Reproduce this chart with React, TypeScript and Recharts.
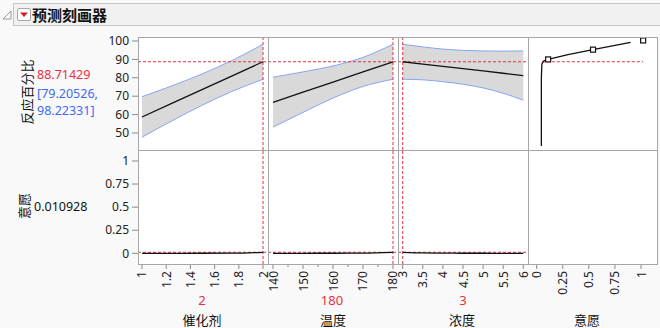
import React from "react";
import { ComposedChart, Line, Area, XAxis, YAxis, ReferenceLine, Scatter } from "recharts";

// current factor settings and predicted response
const currentCatalyst = 2;
const currentTemp = 180;
const currentConc = 3;
const predicted = 88.71429;
const predLo = 79.20526;
const predHi = 98.22331;
const currentDesire = 0.010928;

// 催化剂 profile
const catalystX = [1, 1.25, 1.5, 1.75, 2];
const catalystPred = [58.7, 66.2, 73.7, 81.2, 88.71];
const catalystLo = [47.7, 56.7, 65.2, 72.8, 79.21];
const catalystHi = [69.7, 75.7, 82.2, 89.6, 98.22];
const catalystDes = [0, 0.0001, 0.0005, 0.002, 0.0109];

// 温度 profile
const tempX = [140, 150, 160, 170, 180];
const tempPred = [66.7, 72.2, 77.7, 83.2, 88.71];
const tempLo = [53.2, 61.2, 69.0, 75.3, 79.21];
const tempHi = [80.3, 83.2, 86.4, 91.1, 98.22];
const tempDes = [0, 0.0001, 0.0005, 0.002, 0.0109];

// 浓度 profile
const concX = [3, 3.5, 4, 4.5, 5, 5.5, 6];
const concPred = [88.71, 87.46, 86.21, 84.96, 83.71, 82.46, 81.21];
const concLo = [79.21, 78.9, 77.9, 76.5, 74.5, 71.6, 67.8];
const concHi = [98.22, 96.8, 95.6, 94.9, 94.6, 94.5, 94.6];
const concDes = [0.0109, 0.004, 0.0015, 0.0007, 0.0003, 0.0001, 0];

// desirability function (意愿 vs 反应百分比)
const desireD = [0.045, 0.045, 0.05, 0.07, 0.11, 0.3, 0.54, 0.75, 0.9];
const desireY = [43, 80, 87.5, 89.3, 90, 92.6, 95.3, 97.6, 99.2];
const handleD = [0.11, 0.54, 1.02];
const handleY = [90, 95.3, 100.3];

// ticks
const responseTicks = [50, 60, 70, 80, 90, 100];
const desireTicks = [0, 0.25, 0.5, 0.75, 1];
const catalystTicks = [1, 1.2, 1.4, 1.6, 1.8, 2];
const tempTicks = [140, 145, 150, 155, 160, 165, 170, 175, 180];
const concTicks = [3, 3.5, 4, 4.5, 5, 5.5, 6];

const RED = "#e8303f";
const BLUE = "#3d6cf0";
const BAND_EDGE = "#86a6f2";
const GRID = "#a6a6a6";
const FONT = '"Segoe UI", "Noto Sans", "Noto Sans CJK SC", sans-serif';

const TOP_DOMAIN: [number, number] = [40.76, 102.17];
const BOT_DOMAIN: [number, number] = [-0.116, 1.119];

const ROW1 = 37;
const ROW2 = 150;
const ROW_END = 264;
const COLS = [138, 268, 398, 528, 657];

const makeXTick = (isMajor: (v: number) => boolean) => (props: any) => {
  const { x, y, payload } = props;
  const v = payload.value;
  const major = isMajor(v);
  return (
    <g>
      <line x1={x} x2={x} y1={y} y2={y + (major ? 5 : 3)} stroke="#8a8a8a" />
      {major && (
        <text
          x={x}
          y={y + 7}
          transform={`rotate(-90 ${x} ${y + 7})`}
          textAnchor="end"
          dominantBaseline="central"
          fontSize={12}
          fill="#222"
        >
          {String(v)}
        </text>
      )}
    </g>
  );
};

const zip = (xs: number[], pred: number[], lo: number[], hi: number[]) =>
  xs.map((x, i) => ({ x, pred: pred[i], lo: lo[i], hi: hi[i], band: [lo[i], hi[i]] }));

const zipDes = (xs: number[], d: number[]) => xs.map((x, i) => ({ x, d: d[i] }));

const dash = { stroke: RED, strokeDasharray: "3 2", strokeWidth: 1 } as any;

function TopPanel({ rows, xDomain, cur, left, showY }: any) {
  const w = 130 + (showY ? 40 : 0);
  return (
    <div style={{ position: "absolute", left: showY ? left - 40 : left, top: ROW1 }}>
      <ComposedChart width={w} height={113} data={rows} margin={{ top: 0, right: 0, bottom: 0, left: 0 }}>
        <XAxis type="number" dataKey="x" domain={xDomain} hide />
        <YAxis
          type="number"
          domain={TOP_DOMAIN}
          ticks={responseTicks}
          interval={0}
          hide={!showY}
          width={40}
          axisLine={false}
          tickLine={{ stroke: "#8a8a8a" }}
          tickSize={6}
          tickMargin={3}
          tick={{ fontSize: 12, fill: "#222" }}
        />
        <Area type="monotone" dataKey="band" fill="#d9d9d9" fillOpacity={1} stroke="none" isAnimationActive={false} />
        <Line type="monotone" dataKey="hi" stroke={BAND_EDGE} strokeWidth={1} dot={false} isAnimationActive={false} />
        <Line type="monotone" dataKey="lo" stroke={BAND_EDGE} strokeWidth={1} dot={false} isAnimationActive={false} />
        <ReferenceLine y={predicted} {...dash} />
        <ReferenceLine x={cur} {...dash} />
        <Line type="linear" dataKey="pred" stroke="#111" strokeWidth={1.3} dot={false} isAnimationActive={false} />
      </ComposedChart>
    </div>
  );
}

function BottomPanel({ rows, xDomain, xTicks, isMajor, cur, left, showY }: any) {
  const w = 130 + (showY ? 40 : 0);
  return (
    <div style={{ position: "absolute", left: showY ? left - 40 : left, top: ROW2 }}>
      <ComposedChart width={w} height={114 + 40} data={rows} margin={{ top: 0, right: 0, bottom: 0, left: 0 }}>
        <XAxis
          type="number"
          dataKey="x"
          domain={xDomain}
          ticks={xTicks}
          height={40}
          axisLine={false}
          tickLine={false}
          tickSize={0}
          tickMargin={0}
          interval={0}
          tick={makeXTick(isMajor)}
        />
        <YAxis
          type="number"
          domain={BOT_DOMAIN}
          ticks={desireTicks}
          interval={0}
          hide={!showY}
          width={40}
          axisLine={false}
          tickLine={{ stroke: "#8a8a8a" }}
          tickSize={6}
          tickMargin={3}
          tick={{ fontSize: 12, fill: "#222" }}
        />
        <ReferenceLine y={currentDesire} {...dash} />
        <ReferenceLine x={cur} {...dash} />
        <Line type="monotone" dataKey="d" stroke="#111" strokeWidth={1.3} dot={false} isAnimationActive={false} />
      </ComposedChart>
    </div>
  );
}

const Square = (props: any) => {
  const { cx, cy } = props;
  return <rect x={cx - 2.5} y={cy - 2.5} width={5} height={5} fill="#fff" stroke="#111" strokeWidth={1.2} />;
};

function DesirePanel() {
  const rows = desireD.map((d, i) => ({ x: d, y: desireY[i] }));
  const handles = handleD.map((d, i) => ({ x: d, y: handleY[i] }));
  // spans both rows: extend the response domain downwards over the empty lower cell
  const lo = TOP_DOMAIN[0] - (ROW_END - ROW2) / ((ROW2 - ROW1) / (TOP_DOMAIN[1] - TOP_DOMAIN[0]));
  return (
    <div style={{ position: "absolute", left: COLS[3], top: ROW1 }}>
      <ComposedChart width={129} height={ROW_END - ROW1 + 40} margin={{ top: 0, right: 0, bottom: 0, left: 0 }}>
        <XAxis
          type="number"
          dataKey="x"
          domain={[-0.083, 1.153]}
          ticks={desireTicks}
          height={40}
          axisLine={false}
          tickLine={false}
          tickSize={0}
          tickMargin={0}
          interval={0}
          tick={makeXTick(() => true)}
        />
        <YAxis type="number" dataKey="y" domain={[lo, TOP_DOMAIN[1]]} hide />
        <ReferenceLine
          segment={[
            { x: 0.05, y: predicted },
            { x: 1.02, y: predicted },
          ]}
          {...dash}
        />
        <Line data={rows} type="linear" dataKey="y" stroke="#111" strokeWidth={1.3} dot={false} isAnimationActive={false} />
        <Scatter data={handles} dataKey="y" shape={Square} isAnimationActive={false} />
      </ComposedChart>
    </div>
  );
}

const abs = (x: number, y: number, extra: any = {}): React.CSSProperties => ({
  position: "absolute",
  left: x,
  top: y,
  whiteSpace: "nowrap",
  ...extra,
});

export default function App() {
  const hLines = [ROW1, ROW2, ROW_END];
  return (
    <div
      style={{
        position: "absolute",
        left: 0,
        top: 0,
        width: 660,
        height: 328,
        background: "#f9f9f9",
        fontFamily: FONT,
        color: "#111",
        overflow: "hidden",
      }}
    >
      <style>{".recharts-surface{overflow:visible}"}</style>
      {/* header */}
      <svg style={abs(0, 0)} width={14} height={28}>
        <polygon points="3,19 11,19 11,11" fill="none" stroke="#9a9a9a" />
      </svg>
      <div style={abs(13, 3, { width: 660, height: 21, border: "1px solid #c6c6c6", background: "#f1f1f1" })} />
      <div style={abs(17, 8, { width: 12, height: 11, border: "1px solid #a8a8a8", background: "#fff", borderRadius: 2 })}>
        <svg width={12} height={11} style={{ display: "block" }}>
          <polygon points="2,3.5 10,3.5 6,8" fill="#d81e1e" />
        </svg>
      </div>
      <div style={abs(32, 14, { transform: "translateY(-50%)", fontSize: 15, fontWeight: 700 })}>预测刻画器</div>

      {/* panel backgrounds */}
      {COLS.slice(0, 4).map((c, i) => (
        <React.Fragment key={i}>
          <div style={abs(c, ROW1, { width: COLS[i + 1] - c, height: ROW2 - ROW1, background: "#fff" })} />
          <div style={abs(c, ROW2, { width: COLS[i + 1] - c, height: ROW_END - ROW2, background: "#fff" })} />
        </React.Fragment>
      ))}

      <TopPanel rows={zip(catalystX, catalystPred, catalystLo, catalystHi)} xDomain={[0.967, 2.041]} cur={currentCatalyst} left={COLS[0]} showY />
      <TopPanel rows={zip(tempX, tempPred, tempLo, tempHi)} xDomain={[138.33, 181.67]} cur={currentTemp} left={COLS[1]} />
      <TopPanel rows={zip(concX, concPred, concLo, concHi)} xDomain={[2.883, 6.117]} cur={currentConc} left={COLS[2]} />

      <BottomPanel rows={zipDes(catalystX, catalystDes)} xDomain={[0.967, 2.041]} xTicks={catalystTicks} isMajor={() => true} cur={currentCatalyst} left={COLS[0]} showY />
      <BottomPanel rows={zipDes(tempX, tempDes)} xDomain={[138.33, 181.67]} xTicks={tempTicks} isMajor={(v: number) => v % 10 === 0} cur={currentTemp} left={COLS[1]} />
      <BottomPanel rows={zipDes(concX, concDes)} xDomain={[2.883, 6.117]} xTicks={concTicks} isMajor={() => true} cur={currentConc} left={COLS[2]} />

      <DesirePanel />

      {/* panel grid lines */}
      {hLines.map((y) => (
        <div key={"h" + y} style={abs(COLS[0], y, { width: COLS[4] - COLS[0] + 1, height: 1, background: GRID })} />
      ))}
      {COLS.map((x) => (
        <div key={"v" + x} style={abs(x, ROW1, { width: 1, height: ROW_END - ROW1 + 1, background: GRID })} />
      ))}

      {/* left readouts */}
      <div style={abs(26, 92, { transform: "translate(-50%,-50%) rotate(-90deg)", fontSize: 13 })}>反应百分比</div>
      <div style={abs(37, 74, { transform: "translateY(-50%)", fontSize: 12.5, color: RED })}>{predicted.toFixed(5)}</div>
      <div style={abs(37, 93, { transform: "translateY(-50%)", fontSize: 12.5, color: BLUE })}>[{predLo.toFixed(5)},</div>
      <div style={abs(37, 110, { transform: "translateY(-50%)", fontSize: 12.5, color: BLUE })}>{predHi.toFixed(5)}]</div>
      <div style={abs(23, 206, { transform: "translate(-50%,-50%) rotate(-90deg)", fontSize: 13 })}>意愿</div>
      <div style={abs(34, 206, { transform: "translateY(-50%)", fontSize: 12.5 })}>{String(currentDesire)}</div>

      {/* factor settings and names */}
      <div style={abs(202, 300, { transform: "translate(-50%,-50%)", fontSize: 13, color: RED })}>{currentCatalyst}</div>
      <div style={abs(332, 300, { transform: "translate(-50%,-50%)", fontSize: 13, color: RED })}>{currentTemp}</div>
      <div style={abs(463, 300, { transform: "translate(-50%,-50%)", fontSize: 13, color: RED })}>{currentConc}</div>
      <div style={abs(202, 319, { transform: "translate(-50%,-50%)", fontSize: 13 })}>催化剂</div>
      <div style={abs(333, 319, { transform: "translate(-50%,-50%)", fontSize: 13 })}>温度</div>
      <div style={abs(462, 319, { transform: "translate(-50%,-50%)", fontSize: 13 })}>浓度</div>
      <div style={abs(587, 319, { transform: "translate(-50%,-50%)", fontSize: 13 })}>意愿</div>
    </div>
  );
}
